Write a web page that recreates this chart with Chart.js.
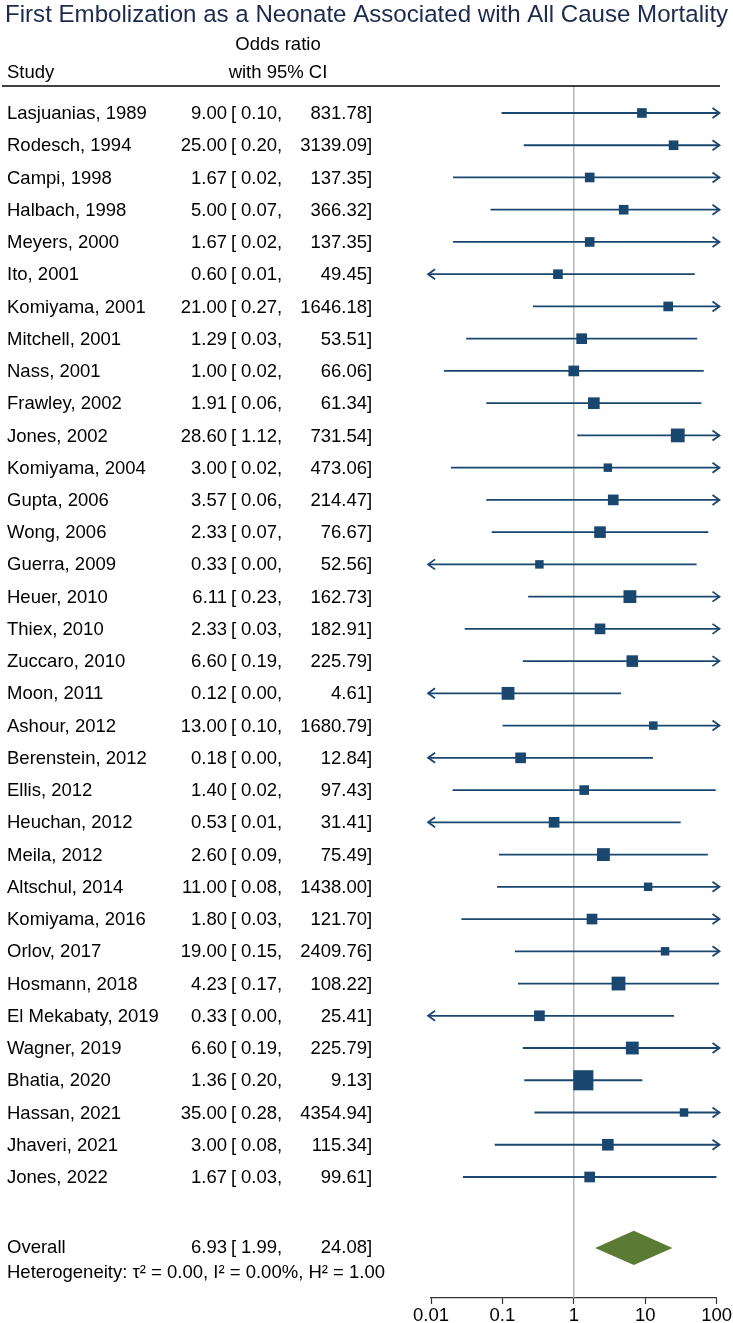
<!DOCTYPE html>
<html>
<head>
<meta charset="utf-8">
<title>Forest plot</title>
<script src="https://cdn.jsdelivr.net/npm/chart.js"></script>
<style>
    html, body { margin: 0; padding: 0; background: #fff; }
    #wrap { position: relative; width: 733px; height: 1323px; }
</style>
</head>
<body>
<div id="wrap"><canvas id="forestChart"></canvas></div>
<script>
// data
var studyNames = ['Lasjuanias, 1989', 'Rodesch, 1994', 'Campi, 1998', 'Halbach, 1998', 'Meyers, 2000',
    'Ito, 2001', 'Komiyama, 2001', 'Mitchell, 2001', 'Nass, 2001', 'Frawley, 2002', 'Jones, 2002',
    'Komiyama, 2004', 'Gupta, 2006', 'Wong, 2006', 'Guerra, 2009', 'Heuer, 2010', 'Thiex, 2010',
    'Zuccaro, 2010', 'Moon, 2011', 'Ashour, 2012', 'Berenstein, 2012', 'Ellis, 2012', 'Heuchan, 2012',
    'Meila, 2012', 'Altschul, 2014', 'Komiyama, 2016', 'Orlov, 2017', 'Hosmann, 2018',
    'El Mekabaty, 2019', 'Wagner, 2019', 'Bhatia, 2020', 'Hassan, 2021', 'Jhaveri, 2021', 'Jones, 2022'];
var oddsRatios = [9.00, 25.00, 1.67, 5.00, 1.67, 0.60, 21.00, 1.29, 1.00, 1.91, 28.60, 3.00, 3.57, 2.33,
    0.33, 6.11, 2.33, 6.60, 0.12, 13.00, 0.18, 1.40, 0.53, 2.60, 11.00, 1.80, 19.00, 4.23, 0.33, 6.60,
    1.36, 35.00, 3.00, 1.67];
var ciLower = [0.10, 0.20, 0.02, 0.07, 0.02, 0.01, 0.27, 0.03, 0.02, 0.06, 1.12, 0.02, 0.06, 0.07, 0.00,
    0.23, 0.03, 0.19, 0.00, 0.10, 0.00, 0.02, 0.01, 0.09, 0.08, 0.03, 0.15, 0.17, 0.00, 0.19, 0.20, 0.28,
    0.08, 0.03];
var ciUpper = [831.78, 3139.09, 137.35, 366.32, 137.35, 49.45, 1646.18, 53.51, 66.06, 61.34, 731.54,
    473.06, 214.47, 76.67, 52.56, 162.73, 182.91, 225.79, 4.61, 1680.79, 12.84, 97.43, 31.41, 75.49,
    1438.00, 121.70, 2409.76, 108.22, 25.41, 225.79, 9.13, 4354.94, 115.34, 99.61];
// study weights in %
var studyWeights = [2.2, 2.2, 2.2, 2.2, 2.2, 2.2, 2.2, 2.7, 2.7, 3.2, 4.5, 1.7, 2.7, 3.2, 1.7, 3.9, 2.7,
    3.2, 3.9, 1.7, 2.7, 2.2, 2.7, 3.9, 1.7, 2.7, 1.7, 4.5, 2.7, 3.9, 9.6, 1.7, 3.2, 2.7];

var overallLabel = 'Overall';
var overallOR = 6.93;
var overallLower = 1.99;
var overallUpper = 24.08;
var heterogeneityText = 'Heterogeneity: \u03c4\u00b2 = 0.00, I\u00b2 = 0.00%, H\u00b2 = 1.00';

var tickValues = [0.01, 0.1, 1, 10, 100];
var tickLabels = ['0.01', '0.1', '1', '10', '100'];

var chartTitle = 'First Embolization as a Neonate Associated with All Cause Mortality';
var headerStudy = 'Study';
var headerEffect = ['Odds ratio', 'with 95% CI'];

// layout / style
var NAVY = '#1a476f';
var GREEN = '#5b7a33';
var FONT = '"Liberation Sans", Arial, Helvetica, sans-serif';
var plotMin = 0.0091, plotMax = 109.9;   // CIs beyond these get an arrow
var overallRow = 36.2, hetRow = 36.98;

function rowLow(i) {
    // rounded lower bound is too coarse near 0, use the log-symmetric one
    return oddsRatios[i] * oddsRatios[i] / ciUpper[i];
}

var datasets = [];
datasets.push({
    label: 'Odds ratio',
    order: 0,
    data: oddsRatios.map(function(v, i) { return { x: v, y: i + 1 }; }),
    pointStyle: 'rect',
    pointRadius: studyWeights.map(function(w) { return 6.5 * Math.sqrt(w) / (2 * Math.SQRT1_2); }),
    backgroundColor: NAVY,
    borderWidth: 0,
    showLine: false,
    clip: false
});
for (var i = 0; i < studyNames.length; i++) {
    datasets.push({
        label: studyNames[i],
        order: 1,
        data: [
            { x: Math.max(rowLow(i), plotMin), y: i + 1 },
            { x: Math.min(ciUpper[i], plotMax), y: i + 1 }
        ],
        showLine: true,
        borderColor: NAVY,
        borderWidth: 1.8,
        pointRadius: 0,
        clip: false
    });
}

var forestPlugin = {
    id: 'forestPlugin',
    beforeDatasetsDraw: function(chart) {
        var ctx = chart.ctx, xs = chart.scales.x, area = chart.chartArea;
        var x1 = xs.getPixelForValue(1);
        ctx.save();
        ctx.strokeStyle = '#a6a6a6';
        ctx.lineWidth = 1.2;
        ctx.beginPath();
        ctx.moveTo(x1, area.top);
        ctx.lineTo(x1, area.bottom);
        ctx.stroke();
        ctx.restore();
    },
    afterDatasetsDraw: function(chart) {
        var ctx = chart.ctx, xs = chart.scales.x, ys = chart.scales.y;
        ctx.save();
        ctx.strokeStyle = NAVY;
        ctx.lineWidth = 1.8;
        ctx.lineJoin = 'miter';
        for (var i = 0; i < studyNames.length; i++) {
            var y = ys.getPixelForValue(i + 1);
            if (ciUpper[i] > plotMax) {
                var xr = xs.getPixelForValue(plotMax);
                ctx.beginPath();
                ctx.moveTo(xr - 7, y - 5);
                ctx.lineTo(xr, y);
                ctx.lineTo(xr - 7, y + 5);
                ctx.stroke();
            }
            if (rowLow(i) < plotMin) {
                var xl = xs.getPixelForValue(plotMin);
                ctx.beginPath();
                ctx.moveTo(xl + 7, y - 5);
                ctx.lineTo(xl, y);
                ctx.lineTo(xl + 7, y + 5);
                ctx.stroke();
            }
        }
        // overall diamond
        var yc = ys.getPixelForValue(overallRow);
        var yt = ys.getPixelForValue(overallRow - 0.53);
        var yb = ys.getPixelForValue(overallRow + 0.53);
        ctx.fillStyle = GREEN;
        ctx.beginPath();
        ctx.moveTo(xs.getPixelForValue(overallLower), yc);
        ctx.lineTo(xs.getPixelForValue(overallOR), yt);
        ctx.lineTo(xs.getPixelForValue(overallUpper), yc);
        ctx.lineTo(xs.getPixelForValue(overallOR), yb);
        ctx.closePath();
        ctx.fill();
        ctx.restore();
    },
    afterDraw: function(chart) {
        var ctx = chart.ctx, ys = chart.scales.y, area = chart.chartArea;
        ctx.save();

        // title
        ctx.fillStyle = '#1c2a4d';
        ctx.textBaseline = 'middle';
        ctx.textAlign = 'left';
        var ts = 23;
        ctx.font = ts + 'px ' + FONT;
        ts = ts * 722 / ctx.measureText(chartTitle).width;
        ctx.font = ts.toFixed(1) + 'px ' + FONT;
        ctx.fillText(chartTitle, 5, 15);

        // header
        ctx.fillStyle = '#000';
        ctx.font = '18.5px ' + FONT;
        ctx.fillText(headerStudy, 7, 73);
        ctx.textAlign = 'center';
        ctx.fillText(headerEffect[0], 278, 45);
        ctx.fillText(headerEffect[1], 278, 73);

        ctx.strokeStyle = '#000';
        ctx.lineWidth = 1.5;
        ctx.beginPath();
        ctx.moveTo(2, area.top);
        ctx.lineTo(720, area.top);
        ctx.stroke();

        function drawRow(y, name, or, lo, hi) {
            ctx.textAlign = 'left';
            ctx.fillText(name, 7, y);
            ctx.textAlign = 'right';
            ctx.fillText(or.toFixed(2), 227, y);
            ctx.textAlign = 'left';
            ctx.fillText('[', 231, y);
            ctx.textAlign = 'right';
            ctx.fillText(lo.toFixed(2), 277, y);
            ctx.textAlign = 'left';
            ctx.fillText(',', 277, y);
            ctx.textAlign = 'right';
            ctx.fillText(hi.toFixed(2), 367, y);
            ctx.textAlign = 'left';
            ctx.fillText(']', 367, y);
        }

        for (var i = 0; i < studyNames.length; i++) {
            drawRow(ys.getPixelForValue(i + 1) + 1, studyNames[i], oddsRatios[i], ciLower[i], ciUpper[i]);
        }
        drawRow(ys.getPixelForValue(overallRow), overallLabel, overallOR, overallLower, overallUpper);

        ctx.textAlign = 'left';
        ctx.fillText(heterogeneityText, 7, ys.getPixelForValue(hetRow));
        ctx.restore();
    }
};

var ctx = document.getElementById('forestChart').getContext('2d');
var forestChart = new Chart(ctx, {
    type: 'scatter',
    data: { datasets: datasets },
    options: {
        responsive: true,
        maintainAspectRatio: false,
        animation: false,
        events: [],
        layout: { padding: { left: 431, right: 16, top: 86, bottom: 0 } },
        plugins: {
            legend: { display: false },
            tooltip: { enabled: false }
        },
        scales: {
            x: {
                type: 'logarithmic',
                position: 'bottom',
                min: 0.01,
                max: 100,
                afterBuildTicks: function(scale) {
                    scale.ticks = tickValues.map(function(v) { return { value: v }; });
                },
                afterFit: function(scale) {
                    scale.height = 25;
                },
                ticks: {
                    autoSkip: false,
                    maxRotation: 0,
                    padding: 1,
                    color: '#000',
                    font: { family: FONT, size: 18.5 },
                    callback: function(value) {
                        var k = tickValues.indexOf(value);
                        return k >= 0 ? tickLabels[k] : '';
                    }
                },
                grid: {
                    drawOnChartArea: false,
                    drawTicks: true,
                    tickLength: 6,
                    tickColor: '#333',
                    tickWidth: 1.2
                },
                border: { color: '#333', width: 1.2 }
            },
            y: {
                type: 'linear',
                display: false,
                reverse: true,
                min: 0.163,
                max: 37.753
            }
        }
    },
    plugins: [forestPlugin]
});
</script>
</body>
</html>
